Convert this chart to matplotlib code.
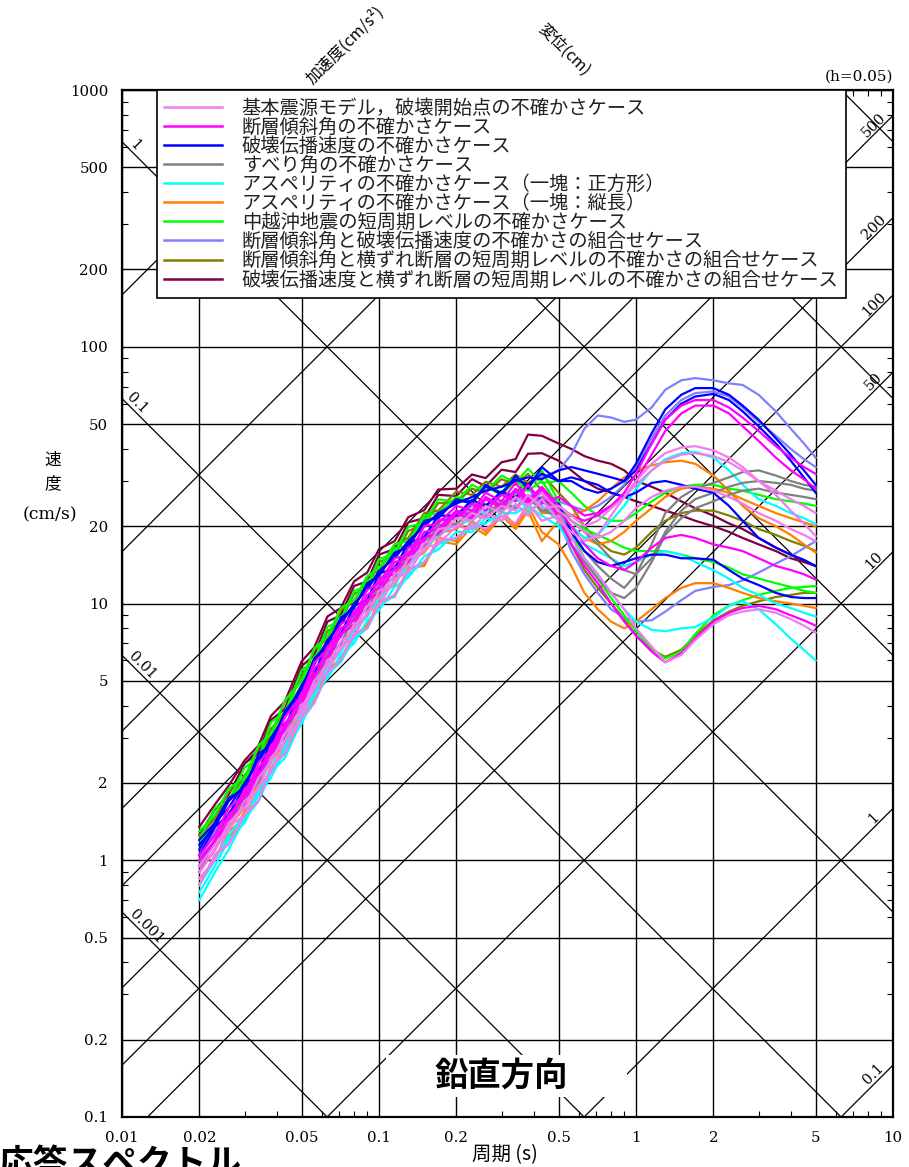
import numpy as np
import matplotlib
matplotlib.use("Agg")
import matplotlib.pyplot as plt
from matplotlib.lines import Line2D
from matplotlib.patches import Rectangle
from matplotlib.ticker import NullFormatter

JP = ["Noto Sans CJK JP", "DejaVu Sans"]
SERIF = ["DejaVu Serif"]

# periods (s) shared by every curve
periods = [0.02, 0.023, 0.026, 0.03, 0.034, 0.038, 0.043, 0.05, 0.056, 0.063,
           0.071, 0.08, 0.09, 0.1, 0.115, 0.13, 0.15, 0.17, 0.2, 0.23,
           0.26, 0.3, 0.34, 0.38, 0.43, 0.5, 0.56, 0.63, 0.71, 0.8,
           0.9, 1.0, 1.15, 1.3, 1.5, 1.7, 2.0, 2.3, 2.6, 3.0,
           3.5, 4.0, 4.5, 5.0]

series_names = [
    "基本震源モデル，破壊開始点の不確かさケース",
    "断層傾斜角の不確かさケース",
    "破壊伝播速度の不確かさケース",
    "すべり角の不確かさケース",
    "アスペリティの不確かさケース（一塊：正方形）",
    "アスペリティの不確かさケース（一塊：縦長）",
    "中越沖地震の短周期レベルの不確かさケース",
    "断層傾斜角と破壊伝播速度の不確かさの組合せケース",
    "断層傾斜角と横ずれ断層の短周期レベルの不確かさの組合せケース",
    "破壊伝播速度と横ずれ断層の短周期レベルの不確かさの組合せケース",
]
series_colors = ["#F07CF0", "#FF00FF", "#0000FF", "#808080", "#00FFFF",
                 "#FF8000", "#00FF00", "#8080FF", "#808000", "#800040"]

# pseudo velocity (cm/s)
pink_1 = [0.85, 1.0, 1.35, 1.5, 1.95, 2.2, 2.9, 3.6, 4.8, 5.4, 6.8, 7.4, 9.3, 9.8, 12.5, 13.2, 16.5, 17.0, 20.0, 19.5, 22.5, 21.0, 24.5, 22.0, 25.5, 21.0,
          19, 17.5, 18.5, 22, 26, 30, 35, 38.5, 40.5, 41, 39.5, 37, 34, 30, 26.5, 23, 20.5, 18.3]
pink_2 = [0.95, 1.15, 1.3, 1.7, 1.9, 2.5, 2.9, 4.0, 4.6, 6.0, 6.6, 8.3, 9.0, 11.2, 12.0, 15.0, 16.0, 19.5, 20.0, 22.5, 21.5, 24.0, 23.0, 26.5, 23.5, 24.0,
          22, 20, 21, 23.5, 26, 29, 33, 36, 38, 38.5, 37.5, 35.5, 33, 30, 27.5, 25.5, 24, 22.5]
pink_3 = [0.8, 1.05, 1.15, 1.5, 1.7, 2.3, 2.6, 3.6, 4.1, 5.4, 6.0, 7.6, 8.0, 10.0, 10.8, 13.5, 14.5, 17.5, 18.0, 20.5, 19.5, 22.0, 20.5, 24.5, 21.0, 22.0,
          18, 15, 13, 11, 9.5, 8, 6.8, 5.9, 6.3, 7.2, 8.3, 9.0, 9.3, 9.5, 9.2, 8.7, 8.2, 7.7]
pink_4 = [0.9, 1.1, 1.4, 1.6, 2.1, 2.4, 3.1, 3.8, 5.0, 5.7, 7.1, 7.9, 9.8, 10.5, 13.0, 14.0, 17.2, 18.0, 21.5, 21.0, 24.0, 22.5, 26.0, 24.0, 27.0, 23.0,
          21, 19, 18, 19, 21, 23.5, 26, 27.5, 28.5, 28.5, 27.5, 26, 24.5, 22.5, 21, 19.5, 18.5, 17.5]

mag_1 = [1.0, 1.2, 1.5, 1.75, 2.3, 2.6, 3.4, 4.2, 5.6, 6.2, 8.0, 8.6, 10.8, 11.5, 14.5, 15.0, 19.0, 19.5, 23.0, 22.0, 26.0, 24.0, 28.0, 25.0, 28.5, 24.0,
         22, 21, 22, 24, 27, 32, 42, 52, 59, 62, 62, 58, 53, 47, 41, 37, 34, 32]
mag_2 = [0.95, 1.2, 1.4, 1.9, 2.1, 2.8, 3.2, 4.5, 5.1, 6.8, 7.4, 9.3, 10.0, 12.5, 13.0, 16.5, 17.5, 21.0, 21.5, 24.5, 23.0, 26.5, 25.0, 29.0, 24.5, 26.0,
         24, 22, 22.5, 24, 26, 30, 38, 47, 55, 59, 59, 55, 49, 43, 37, 33, 30.5, 28]
mag_3 = [1.05, 1.25, 1.6, 1.8, 2.4, 2.7, 3.6, 4.4, 5.9, 6.6, 8.3, 9.0, 11.3, 12.0, 15.0, 15.5, 20.0, 20.5, 24.0, 23.0, 27.0, 25.0, 29.5, 25.5, 27.0, 22.0,
         17, 14, 12, 10, 8.5, 7.5, 6.5, 5.9, 6.4, 7.3, 8.5, 9.2, 9.6, 9.8, 9.5, 9.0, 8.6, 8.2]
mag_4 = [0.9, 1.1, 1.45, 1.65, 2.2, 2.5, 3.3, 4.0, 5.3, 6.0, 7.6, 8.3, 10.3, 11.0, 13.8, 14.5, 18.0, 18.8, 22.5, 21.5, 25.5, 23.5, 27.5, 24.5, 28.0, 23.0,
         20, 17, 15, 14, 13.5, 14.5, 16.5, 18, 18.5, 18, 17, 16.5, 16, 15, 14, 13.5, 13, 12.4]

blue_1 = [1.15, 1.35, 1.7, 1.95, 2.5, 2.9, 3.7, 4.7, 6.0, 7.0, 8.6, 9.8, 11.7, 13.0, 15.5, 17.0, 20.5, 22.0, 25.0, 25.0, 28.5, 27.0, 30.5, 29.0, 32.0, 30.0,
          30, 28, 27, 28, 30, 35, 46, 57, 65, 69, 69, 65, 59, 52, 44, 38, 33, 29]
blue_2 = [1.1, 1.4, 1.6, 2.0, 2.4, 3.0, 3.6, 4.8, 5.8, 7.2, 8.3, 10.0, 11.3, 13.4, 15.0, 17.5, 20.0, 22.5, 24.5, 26.0, 27.5, 28.5, 30.0, 31.0, 30.5, 33.0,
          34, 33, 32, 31, 30, 33, 42, 52, 60, 64, 65.5, 62, 56, 49, 42, 36, 31, 27]
blue_3 = [1.2, 1.4, 1.75, 1.9, 2.6, 2.8, 3.8, 4.6, 6.1, 6.9, 8.8, 9.6, 12.0, 12.8, 15.8, 16.5, 21.0, 21.5, 25.5, 24.5, 29.0, 26.5, 31.5, 28.0, 34.0, 30.0,
          31, 30, 29, 27, 26, 27, 29.5, 30, 29, 28, 27, 24, 21, 18, 16.5, 15.5, 14.8, 14]
blue_4 = [1.05, 1.35, 1.5, 1.95, 2.2, 2.95, 3.25, 4.8, 5.3, 7.1, 7.6, 9.8, 10.3, 13.1, 13.7, 17.2, 18.1, 22.0, 22.0, 25.3, 24.0, 27.3, 25.8, 28.8, 25.0, 24.5,
          19, 16, 14.5, 14, 14.5, 15, 15.5, 15.5, 15, 15, 14.8, 13.5, 12.5, 11.8, 11, 10.6, 10.5, 10.5]

gray_1 = [0.95, 1.2, 1.4, 1.78, 2.02, 2.72, 2.98, 4.4, 4.8, 6.5, 6.9, 9.0, 9.4, 11.9, 12.5, 15.9, 16.5, 20.3, 20.2, 23.2, 21.9, 25.2, 23.5, 26.5, 23.0, 22.0,
          19, 16, 14, 12.5, 11.5, 13, 17, 22.5, 26, 28, 29.5, 31, 32.5, 33, 31.5, 30, 29, 28.5]
gray_2 = [0.9, 1.2, 1.4, 1.75, 2.0, 2.65, 3.0, 4.3, 4.9, 6.3, 7.0, 8.8, 9.5, 11.7, 12.6, 15.5, 16.8, 19.8, 20.5, 22.8, 21.8, 24.8, 23.5, 26.0, 23.0, 23.5,
          21, 19, 17, 15, 13.5, 13, 15, 19, 23, 25.5, 27, 28.5, 29.5, 30, 29.5, 29, 28, 27.5]
gray_3 = [1.0, 1.17, 1.55, 1.65, 2.28, 2.45, 3.32, 3.95, 5.3, 5.9, 7.6, 8.2, 10.3, 10.9, 13.7, 14.5, 18.2, 18.5, 22.3, 21.0, 24.4, 22.7, 26.5, 24.0, 26.0, 21.5,
          17, 14.5, 12.5, 11, 10.5, 11.5, 14.5, 18.5, 21.5, 23.5, 25, 26.5, 27.5, 28, 27, 26.5, 26, 25.5]

cyan_1 = [0.75, 0.95, 1.2, 1.4, 1.8, 2.1, 2.7, 3.4, 4.4, 5.1, 6.3, 7.0, 8.6, 9.4, 11.6, 12.6, 15.3, 16.2, 19.0, 19.0, 21.5, 21.0, 24.0, 22.5, 25.0, 22.0,
          20, 18, 18.5, 21, 24, 28, 33, 36.5, 38.5, 39, 37, 33, 29, 25.5, 24, 22.5, 21.5, 20.4]
cyan_2 = [0.7, 0.9, 1.1, 1.45, 1.7, 2.2, 2.5, 3.5, 4.1, 5.3, 5.9, 7.3, 8.0, 9.8, 10.7, 13.0, 14.5, 17.0, 18.0, 20.0, 20.5, 22.5, 22.5, 24.0, 22.0, 20.0,
          17, 15, 13, 11, 9.5, 8.5, 7.9, 7.8, 8.0, 8.1, 8.8, 9.8, 10.2, 9.5, 8.3, 7.3, 6.6, 6.0]
cyan_3 = [0.8, 1.0, 1.25, 1.5, 1.85, 2.3, 2.8, 3.7, 4.5, 5.6, 6.5, 7.8, 8.9, 10.4, 12.0, 14.0, 16.3, 18.4, 20.5, 21.0, 23.0, 23.0, 25.5, 23.5, 24.0, 21.0,
          18, 17, 16, 15, 14, 14.5, 15.5, 16, 15.5, 14.5, 13.5, 12.5, 11.5, 10.8, 10, 9.6, 9.2, 8.9]

orange_1 = [0.85, 1.0, 1.3, 1.45, 1.9, 2.2, 2.8, 3.5, 4.4, 5.3, 6.2, 7.4, 8.3, 9.9, 10.8, 13.5, 14.2, 17.5, 17.0, 20.0, 18.5, 22.0, 19.5, 23.0, 17.5, 21.0,
            22, 23, 25, 28, 31, 33, 34.5, 35.5, 36, 35, 31.5, 27.5, 24, 21.5, 20, 18.5, 17, 15.8]
orange_2 = [0.8, 1.05, 1.2, 1.55, 1.8, 2.3, 2.6, 3.6, 4.2, 5.5, 6.1, 7.6, 8.1, 10.3, 10.6, 13.8, 14.0, 18.0, 17.5, 21.0, 19.0, 23.0, 20.0, 24.0, 19.0, 17.0,
            14, 11, 9.5, 8.5, 8.0, 8.5, 9.5, 10.5, 11.5, 12.0, 12.0, 11.5, 11.0, 10.5, 10.2, 10.0, 9.8, 9.6]
orange_3 = [0.9, 1.1, 1.35, 1.6, 2.0, 2.4, 2.9, 3.8, 4.6, 5.8, 6.6, 8.0, 8.9, 10.8, 11.8, 14.5, 15.8, 18.8, 19.5, 22.0, 21.5, 24.5, 23.5, 26.5, 22.5, 22.5,
            20, 18, 17, 17.5, 19, 21, 23.5, 26, 28, 28.5, 28, 27, 25.5, 24, 22.5, 21.5, 20.7, 20]

green_1 = [1.3, 1.5, 1.9, 2.1, 2.8, 3.1, 4.2, 5.0, 6.7, 7.4, 9.6, 10.3, 12.8, 13.7, 17.0, 17.5, 22.0, 22.5, 26.0, 25.0, 29.0, 27.0, 31.5, 28.0, 33.0, 25.0,
           19, 15, 12.5, 10.5, 9, 7.8, 6.7, 6.1, 6.5, 7.6, 9.0, 9.8, 10.3, 10.8, 11.2, 11.5, 11.6, 11.7]
green_2 = [1.2, 1.6, 1.7, 2.3, 2.5, 3.45, 3.75, 5.5, 6.0, 8.1, 8.6, 11.2, 11.7, 14.9, 15.6, 19.9, 20.6, 25.4, 25.0, 29.0, 27.3, 31.5, 29.5, 33.5, 29.5, 30.0,
           27, 24, 22, 21, 21, 22.5, 25, 27, 28.5, 29, 29, 28, 27.5, 26.5, 25.5, 25, 24.5, 24]
green_3 = [1.15, 1.4, 1.7, 2.05, 2.55, 3.0, 3.8, 4.8, 6.2, 7.0, 8.9, 9.7, 12.3, 13.0, 16.4, 16.8, 21.5, 21.5, 25.5, 24.5, 28.5, 26.5, 30.0, 27.5, 30.0, 24.0,
           21, 19.5, 18.5, 17.5, 16.5, 16, 16, 16, 15.5, 15, 14.5, 13.8, 13, 12.5, 12, 11.6, 11.2, 11]

lav_1 = [1.0, 1.3, 1.45, 1.85, 2.15, 2.8, 3.2, 4.5, 5.2, 6.7, 7.5, 9.3, 10.2, 12.4, 13.5, 16.4, 17.5, 21.0, 21.5, 24.0, 24.0, 26.5, 27.0, 29.0, 31.0, 33.0,
         38, 48, 54, 53, 51, 52, 58, 68, 74, 75.5, 74, 72, 71, 65, 56, 48, 42, 37]
lav_2 = [0.95, 1.2, 1.5, 1.7, 2.2, 2.6, 3.3, 4.3, 5.3, 6.4, 7.6, 8.8, 10.4, 11.6, 14.0, 15.4, 18.7, 19.6, 23.0, 22.5, 25.5, 24.5, 27.0, 26.0, 27.5, 25.0,
         24, 23, 24, 26, 29, 34, 44, 54, 62, 66, 67, 64, 58, 51, 45, 40, 36.5, 34]
lav_3 = [1.05, 1.3, 1.5, 1.88, 2.22, 2.82, 3.28, 4.6, 5.3, 6.8, 7.5, 9.4, 10.2, 12.5, 13.8, 16.5, 18.3, 21.1, 22.2, 24.5, 24.1, 26.6, 25.5, 28.2, 24.0, 21.0,
         16, 13, 11, 9.5, 8.8, 8.5, 8.6, 9.3, 10.3, 11.2, 11.6, 11.8, 12.3, 13.2, 14.3, 15.3, 16.4, 17.5]

olive_1 = [1.2, 1.5, 1.7, 2.15, 2.5, 3.25, 3.75, 5.3, 6.0, 7.8, 8.5, 10.9, 11.5, 14.5, 15.3, 19.2, 20.2, 24.6, 24.8, 28.0, 27.0, 30.5, 29.0, 32.0, 27.5, 23.0,
           17, 13.5, 11.5, 10, 8.7, 7.5, 6.6, 6.2, 6.6, 7.5, 8.6, 9.3, 9.8, 10.2, 10.6, 10.8, 11, 11]
olive_2 = [1.25, 1.45, 1.85, 2.05, 2.75, 3.05, 4.15, 5.0, 6.6, 7.3, 9.4, 10.2, 12.7, 13.5, 17.0, 18.0, 22.5, 23.0, 27.3, 26.5, 29.8, 28.5, 31.8, 29.5, 32.0, 27.0,
           24, 20, 17.5, 16, 15.5, 16.5, 19, 21, 22.5, 23, 23, 22, 21, 19.5, 18.5, 17.5, 16.8, 16]

maroon_1 = [1.35, 1.65, 1.95, 2.45, 2.8, 3.65, 4.15, 5.95, 6.75, 8.9, 9.6, 12.2, 13.2, 16.3, 17.5, 21.7, 23.1, 27.8, 28.0, 31.8, 30.8, 35.5, 36.5, 45.5, 45.0, 42.0,
            40, 37.5, 36, 35, 33, 30, 28.5, 27, 25, 23.5, 22, 20.5, 19.5, 18, 16.5, 15.5, 14.7, 14]
maroon_2 = [1.25, 1.58, 1.8, 2.38, 2.62, 3.52, 3.88, 5.7, 6.3, 8.5, 9.0, 11.7, 12.2, 15.5, 16.3, 20.7, 21.5, 26.5, 26.2, 30.5, 28.6, 33.2, 32.5, 38.3, 38.5, 36.0,
            33, 30, 28, 27, 26, 25, 24, 23, 22, 21, 20, 19, 18, 17, 16, 15, 14.5, 14]

series_curves = [
    [pink_1, pink_2, pink_3, pink_4],
    [mag_1, mag_2, mag_3, mag_4],
    [blue_1, blue_2, blue_3, blue_4],
    [gray_1, gray_2, gray_3],
    [cyan_1, cyan_2, cyan_3],
    [orange_1, orange_2, orange_3],
    [green_1, green_2, green_3],
    [lav_1, lav_2, lav_3],
    [olive_1, olive_2],
    [maroon_1, maroon_2],
]

x_ticks = [0.01, 0.02, 0.05, 0.1, 0.2, 0.5, 1, 2, 5, 10]
x_tick_labels = ["0.01", "0.02", "0.05", "0.1", "0.2", "0.5", "1", "2", "5", "10"]
y_ticks = [0.1, 0.2, 0.5, 1, 2, 5, 10, 20, 50, 100, 200, 500, 1000]
y_tick_labels = ["0.1", "0.2", "0.5", "1", "2", "5", "10", "20", "50", "100", "200", "500", "1000"]

# tripartite guide lines
disp_lines = [0.001, 0.01, 0.1, 1, 10, 100, 1000]              # cm
acc_lines = [0.1, 1, 10, 50, 100, 200, 500, 1000, 2000, 10000, 100000]  # cm/s2
disp_labels = ["1", "0.1", "0.01", "0.001"]
disp_label_values = [1, 0.1, 0.01, 0.001]
disp_label_T = [0.0108, 0.0109, 0.0115, 0.0119]
acc_labels = ["500", "200", "100", "50", "10", "1", "0.1"]
acc_label_values = [500, 200, 100, 50, 10, 1, 0.1]
acc_label_T = 8.8


def px(x, y):
    return x / 909.0, 1 - y / 1167.0


fig = plt.figure(figsize=(9.09, 11.67), dpi=100)
ax = fig.add_axes([122 / 909, 50 / 1167, 771 / 909, 1027 / 1167])
ax.set_xscale("log")
ax.set_yscale("log")

t_line = np.array([1e-3, 1e2])
for d in disp_lines:
    ax.plot(t_line, 2 * np.pi * d / t_line, color="black", lw=0.9, zorder=1)
for a in acc_lines:
    ax.plot(t_line, a * t_line / (2 * np.pi), color="black", lw=0.9, zorder=1)

for lab, d, t in zip(disp_labels, disp_label_values, disp_label_T):
    ax.text(t, 2 * np.pi * d / t, lab, rotation=-45, rotation_mode="anchor",
            ha="center", va="bottom", fontsize=10.5, family=SERIF, zorder=2)
for lab, a in zip(acc_labels, acc_label_values):
    ax.text(acc_label_T, a * acc_label_T / (2 * np.pi), lab, rotation=45,
            rotation_mode="anchor", ha="center", va="bottom", fontsize=10.5,
            family=SERIF, zorder=2)

# spectra, drawn back to front so the base case sits on top
for k in range(len(series_curves) - 1, -1, -1):
    for curve in series_curves[k]:
        ax.plot(periods, curve, color=series_colors[k], lw=1.6, zorder=3)

ax.set_xlim(0.01, 10)
ax.set_ylim(0.1, 1000)
ax.set_xticks(x_ticks)
ax.set_xticklabels(x_tick_labels)
ax.set_yticks(y_ticks)
ax.set_yticklabels(y_tick_labels)
ax.set_xticks([m * 10.0 ** e for e in (-2, -1, 0) for m in (3, 4, 6, 7, 8, 9)], minor=True)
ax.set_yticks([m * 10.0 ** e for e in (-1, 0, 1, 2) for m in (3, 4, 6, 7, 8, 9)], minor=True)
ax.xaxis.set_minor_formatter(NullFormatter())
ax.yaxis.set_minor_formatter(NullFormatter())
ax.tick_params(which="major", length=0, pad=10, labelsize=10.8)
ax.tick_params(which="minor", direction="in", length=4, width=0.8, top=True, right=True)
for lab in ax.get_xticklabels() + ax.get_yticklabels():
    lab.set_fontfamily(SERIF)
ax.grid(True, which="major", color="black", lw=1.0)
ax.set_axisbelow(True)
for sp in ax.spines.values():
    sp.set_linewidth(1.6)

# white box behind the direction caption
ax.add_patch(Rectangle((0.3424, 0.0195), 0.3126, 0.0409, transform=ax.transAxes,
                       facecolor="white", edgecolor="none", zorder=2.5))
ax.text(0.4914, 0.0400, "鉛直方向", transform=ax.transAxes, ha="center", va="center",
        fontsize=24, fontweight="bold", family=JP, zorder=4)

handles = [Line2D([], [], color=c, lw=1.8) for c in series_colors]
leg = ax.legend(handles, series_names, loc="upper left", bbox_to_anchor=(0.045, 1.0),
                borderaxespad=0, frameon=True, fancybox=False, edgecolor="black",
                framealpha=1, prop={"family": JP, "size": 13.9}, handlelength=3.0,
                handletextpad=1.0, labelspacing=-0.1, borderpad=0.4)
leg.get_frame().set_linewidth(1.2)
leg.set_zorder(10)
for t in leg.get_texts():
    t.set_color("#222222")

fig.text(*px(345, 45), "加速度(cm/s²)", rotation=45, ha="center", va="center",
         fontsize=11.5, family=JP)
fig.text(*px(564, 50), "変位(cm)", rotation=-45, ha="center", va="center",
         fontsize=11.5, family=JP)
fig.text(*px(893, 77), "(h=0.05)", ha="right", va="center", fontsize=11, family=SERIF)
fig.text(*px(53, 460), "速", ha="center", va="center", fontsize=12, family=JP)
fig.text(*px(53, 484), "度", ha="center", va="center", fontsize=12, family=JP)
fig.text(*px(50, 515), "(cm/s)", ha="center", va="center", fontsize=12.5, family=SERIF)
fig.text(*px(505, 1155), "周期 (s)", ha="center", va="center", fontsize=14, family=JP)
fig.text(*px(-2, 1146), "応答スペクトル", ha="left", va="top", fontsize=25,
         fontweight="bold", family=JP)

fig.savefig("out.png", dpi=100)
